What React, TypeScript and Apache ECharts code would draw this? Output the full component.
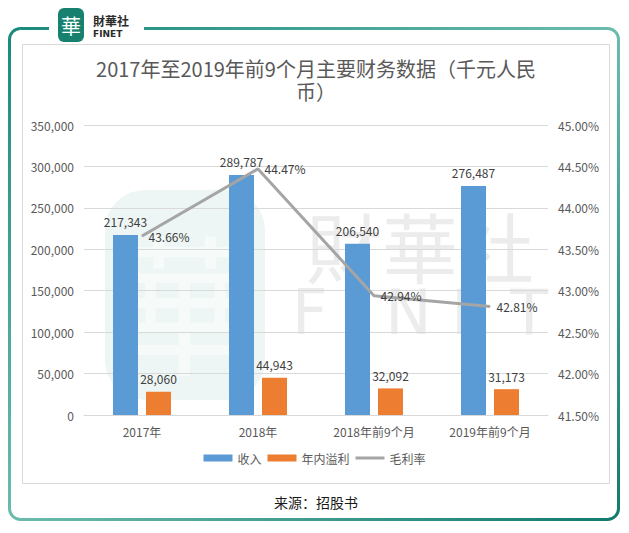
import React, { useEffect, useRef } from "react";
import * as echarts from "echarts";

const categories = ["2017年", "2018年", "2018年前9个月", "2019年前9个月"];
const revenue = [217343, 289787, 206540, 276487];
const profit = [28060, 44943, 32092, 31173];
const grossMargin = [43.66, 44.47, 42.94, 42.81];
const seriesNames = ["收入", "年内溢利", "毛利率"];
const titleText = "2017年至2019年前9个月主要财务数据（千元人民\n币）";
const sourceText = "来源：招股书";

const FONT = "'Noto Sans CJK SC', 'Noto Sans', sans-serif";

export default function App() {
  const ref = useRef<HTMLDivElement>(null);
  useEffect(() => {
    if (!ref.current) return;
    const chart = echarts.init(ref.current, undefined, { renderer: "svg" });
    const fmt = (v: number) => v.toLocaleString("en-US");
    chart.setOption({
      animation: false,
      backgroundColor: "#ffffff",
      textStyle: { fontFamily: FONT },
      graphic: [
        // outer frame
        {
          type: "rect",
          z: 0,
          shape: { x: 9.5, y: 28.5, width: 609, height: 491, r: 11 },
          style: {
            fill: "none",
            lineWidth: 3,
            stroke: new echarts.graphic.LinearGradient(0, 0, 1, 1, [
              { offset: 0, color: "#1a8a7c" },
              { offset: 0.5, color: "#6cbcae" },
              { offset: 1, color: "#127a6e" },
            ]),
          },
          silent: true,
        },
        // gap in top frame for logo
        { type: "rect", z: 1, shape: { x: 49, y: 22, width: 95, height: 14 }, style: { fill: "#ffffff" }, silent: true },
        // logo
        { type: "rect", z: 2, shape: { x: 58, y: 8, width: 26, height: 34, r: 6 }, style: { fill: "#17806f" }, silent: true },
        { type: "text", z: 3, x: 71, y: 25, style: { text: "華", fill: "#ffffff", fontSize: 20, fontFamily: FONT, align: "center", verticalAlign: "middle" }, silent: true },
        { type: "text", z: 3, x: 93, y: 20, style: { text: "財華社", fill: "#2b2b2b", fontSize: 12, fontWeight: "bold", fontFamily: FONT, verticalAlign: "middle" }, silent: true },
        { type: "text", z: 3, x: 93, y: 34, style: { text: "FINET", fill: "#2b2b2b", fontSize: 9, fontWeight: "bold", fontFamily: "'DejaVu Sans', sans-serif", verticalAlign: "middle" }, silent: true },
        // inner gray box
        { type: "rect", z: 0, shape: { x: 22.5, y: 44.5, width: 587, height: 439 }, style: { fill: "none", stroke: "#D9D9D9", lineWidth: 1 }, silent: true },
        // title
        { type: "text", z: 3, x: 316, y: 57, style: { text: titleText, fill: "#595959", fontSize: 20, lineHeight: 23, fontFamily: FONT, align: "center", verticalAlign: "top" }, silent: true },
        // watermark
        { type: "rect", z: 0, shape: { x: 105, y: 190, width: 160, height: 210, r: 40 }, style: { fill: "#edf6f4" }, silent: true },
        { type: "text", z: 0, x: 185, y: 297, style: { text: "華", fill: "#f6faf9", fontSize: 150, fontFamily: FONT, align: "center", verticalAlign: "middle" }, silent: true },
        { type: "text", z: 0, x: 420, y: 245, style: { text: "財華社", fill: "#ececec", fontSize: 76, fontFamily: FONT, align: "center", verticalAlign: "middle" }, silent: true },
        { type: "text", z: 0, x: 420, y: 312, style: { text: "F I N E T", fill: "#ececec", fontSize: 62, fontFamily: "'DejaVu Sans', sans-serif", align: "center", verticalAlign: "middle" }, silent: true },
        // source
        { type: "text", z: 3, x: 316, y: 502, style: { text: sourceText, fill: "#1a1a1a", fontSize: 14, fontFamily: FONT, align: "center", verticalAlign: "middle" }, silent: true },
      ],
      legend: {
        bottom: 64,
        left: "center",
        itemWidth: 29,
        itemHeight: 7,
        itemGap: 6,
        textStyle: { color: "#595959", fontSize: 12, fontFamily: FONT },
        data: [
          { name: seriesNames[0], icon: "rect" },
          { name: seriesNames[1], icon: "rect" },
          { name: seriesNames[2], icon: "path://M0,0H29V3H0Z" },
        ],
      },
      grid: { left: 84, right: 81, top: 125, bottom: 118 },
      xAxis: {
        type: "category",
        data: categories,
        axisTick: { show: false },
        axisLine: { lineStyle: { color: "#D9D9D9" } },
        axisLabel: { color: "#595959", fontSize: 12, margin: 10 },
      },
      yAxis: [
        {
          type: "value",
          min: 0,
          max: 350000,
          interval: 50000,
          axisLabel: { color: "#595959", fontSize: 12, margin: 10, formatter: (v: number) => fmt(v) },
          splitLine: { lineStyle: { color: "#D9D9D9" } },
          axisLine: { show: false },
        },
        {
          type: "value",
          min: 41.5,
          max: 45,
          interval: 0.5,
          axisLabel: { color: "#595959", fontSize: 12, margin: 10, formatter: (v: number) => v.toFixed(2) + "%" },
          splitLine: { show: false },
          axisLine: { show: false },
        },
      ],
      series: [
        {
          name: seriesNames[0],
          type: "bar",
          data: revenue,
          barWidth: 25,
          barGap: "32%",
          itemStyle: { color: "#5B9BD5" },
          label: { show: true, position: "top", color: "#404040", fontSize: 12, distance: 7, formatter: (p: any) => fmt(p.value) },
        },
        {
          name: seriesNames[1],
          type: "bar",
          data: profit,
          barWidth: 25,
          itemStyle: { color: "#ED7D31" },
          label: { show: true, position: "top", color: "#404040", fontSize: 12, distance: 7, formatter: (p: any) => fmt(p.value) },
        },
        {
          name: seriesNames[2],
          type: "line",
          yAxisIndex: 1,
          data: grossMargin,
          symbol: "circle",
          symbolSize: 1,
          showSymbol: true,
          lineStyle: { color: "#A5A5A5", width: 3 },
          itemStyle: { color: "#A5A5A5" },
          label: { show: true, position: "right", color: "#404040", fontSize: 12, distance: 6, formatter: (p: any) => p.value.toFixed(2) + "%" },
        },
      ],
    });
    return () => chart.dispose();
  }, []);
  return <div ref={ref} style={{ position: "absolute", left: 0, top: 0, width: 629, height: 533 }} />;
}
